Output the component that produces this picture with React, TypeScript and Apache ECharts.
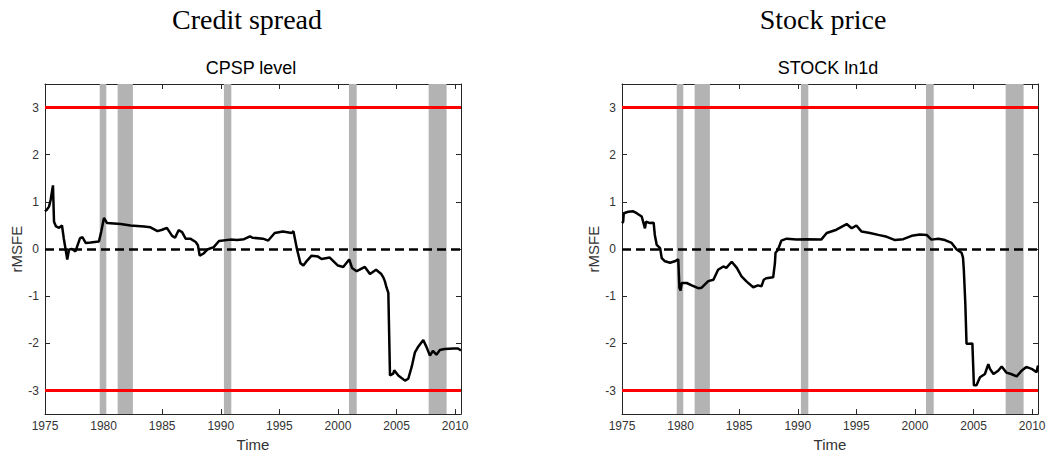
import React, { useEffect, useRef } from "react";
import * as echarts from "echarts";

// Rolling rMSFE statistic, credit spread (CPSP level)
const cpspYears = [
  1975.0, 1975.14, 1975.34, 1975.48, 1975.68, 1975.77, 1975.94, 1976.2, 1976.45, 1976.6, 1976.9,
  1977.05, 1977.3, 1977.6, 1977.99, 1978.2, 1978.47, 1978.9, 1979.6, 1979.8, 1980.03, 1980.3,
  1981.46, 1982.3, 1983.45, 1984.0, 1984.6, 1985.0, 1985.4, 1985.85, 1986.1, 1986.4, 1986.7,
  1987.0, 1987.4, 1987.86, 1988.05, 1988.2, 1988.5, 1988.85, 1989.4, 1989.85, 1990.8, 1991.4,
  1991.98, 1992.5, 1992.7, 1993.6, 1994.05, 1994.6, 1995.3, 1996.05, 1996.2, 1996.5, 1996.8,
  1997.05, 1997.35, 1997.75, 1998.3, 1998.6, 1999.3, 2000.0, 2000.45, 2000.96, 2001.2, 2001.6,
  2002.3, 2002.73, 2003.25, 2003.7, 2003.87, 2004.0, 2004.15, 2004.3, 2004.38, 2004.44, 2004.72,
  2004.8, 2005.15, 2005.72, 2006.0, 2006.29, 2006.57, 2006.85, 2007.28, 2007.56, 2007.85, 2008.1,
  2008.4, 2008.7, 2009.1, 2009.85, 2010.25, 2010.5,
];
const cpspValues = [
  0.8, 0.83, 0.9, 1.04, 1.35, 0.58, 0.48, 0.45, 0.5, 0.23, -0.22,
  -0.01, 0.0, -0.05, 0.23, 0.25, 0.13, 0.14, 0.16, 0.37, 0.66, 0.55,
  0.53, 0.5, 0.48, 0.46, 0.38, 0.41, 0.45, 0.28, 0.24, 0.4, 0.36,
  0.22, 0.22, 0.15, 0.08, -0.14, -0.1, -0.01, 0.04, 0.17, 0.2, 0.19,
  0.21, 0.27, 0.24, 0.22, 0.18, 0.34, 0.37, 0.34, 0.38, 0.0, -0.3,
  -0.35, -0.25, -0.14, -0.16, -0.21, -0.18, -0.35, -0.38, -0.22, -0.4, -0.47,
  -0.38, -0.53, -0.44, -0.53, -0.6, -0.68, -0.82, -0.93, -1.94, -2.68, -2.64,
  -2.57, -2.68, -2.79, -2.75, -2.5, -2.19, -2.07, -1.93, -2.08, -2.26, -2.16,
  -2.24, -2.14, -2.12, -2.11, -2.11, -2.15,
];

// Rolling rMSFE statistic, stock price (STOCK ln1d)
const stockYears = [
  1975.0, 1975.1, 1975.15, 1975.54, 1975.96, 1976.25, 1976.68, 1976.96, 1977.05, 1977.4, 1977.7,
  1977.8, 1977.96, 1978.25, 1978.39, 1978.67, 1979.1, 1979.5, 1979.8, 1979.9, 1980.0, 1980.1,
  1980.52, 1980.95, 1981.5, 1981.8, 1982.36, 1982.8, 1983.2, 1983.65, 1983.9, 1984.36, 1984.8,
  1985.2, 1985.64, 1986.2, 1986.6, 1986.9, 1987.1, 1987.3, 1987.9, 1988.05, 1988.1, 1988.3,
  1988.6, 1989.05, 1989.9, 1990.76, 1992.0, 1992.47, 1993.3, 1994.17, 1994.6, 1995.0, 1995.45,
  1996.16, 1996.87, 1997.6, 1998.3, 1999.0, 1999.72, 2000.43, 2001.0, 2001.4, 2002.0, 2002.56,
  2003.13, 2003.56, 2003.98, 2004.1, 2004.17, 2004.3, 2004.4, 2004.7, 2004.9, 2005.03, 2005.25,
  2005.55, 2005.97, 2006.26, 2006.4, 2006.7, 2007.1, 2007.4, 2007.8, 2008.2, 2008.68, 2009.1,
  2009.5, 2009.95, 2010.38, 2010.5,
];
const stockValues = [
  0.55, 0.58, 0.76, 0.79, 0.8, 0.76, 0.69, 0.44, 0.58, 0.55, 0.56,
  0.3, 0.09, 0.02, -0.19, -0.26, -0.29, -0.26, -0.22, -0.82, -0.88, -0.72,
  -0.72, -0.77, -0.83, -0.82, -0.68, -0.65, -0.44, -0.37, -0.4, -0.27, -0.4,
  -0.58, -0.69, -0.81, -0.77, -0.79, -0.65, -0.62, -0.6, -0.3, -0.08, -0.02,
  0.18, 0.22, 0.2, 0.21, 0.2, 0.34, 0.41, 0.53, 0.44, 0.5, 0.37,
  0.34, 0.3, 0.26, 0.19, 0.21, 0.28, 0.31, 0.3, 0.2, 0.22, 0.19,
  0.13, -0.01, -0.08, -0.18, -0.44, -1.17, -2.01, -2.01, -2.0, -2.89, -2.89,
  -2.72, -2.65, -2.44, -2.54, -2.65, -2.58, -2.49, -2.62, -2.65, -2.7, -2.58,
  -2.5, -2.54, -2.61, -2.47,
];

// Recession periods (shaded)
const recessions: [number, number][] = [
  [1979.67, 1980.23],
  [1981.2, 1982.5],
  [1990.27, 1990.9],
  [2000.94, 2001.6],
  [2007.74, 2009.27],
];

const criticalValues = [3, -3];
const xTicks = [1975, 1980, 1985, 1990, 1995, 2000, 2005, 2010];
const yTicks = [-3, -2, -1, 0, 1, 2, 3];

const panelTitles = ["Credit spread", "Stock price"];
const panelSubtitles = ["CPSP level", "STOCK ln1d"];

const X_MIN = 1975;
const X_MAX = 2010.5;
const Y_MIN = -3.5;
const Y_MAX = 3.5;

const AXIS_COLOR = "#262626";
const LABEL_FONT = "Liberation Sans, Arial, sans-serif";

function zip(xs: number[], ys: number[]) {
  return xs.map((x, i) => [x, ys[i]]);
}

export default function App() {
  const ref = useRef<HTMLDivElement>(null);

  useEffect(() => {
    if (!ref.current) return;
    const chart = echarts.init(ref.current, undefined, { renderer: "svg" });

    const panelLeft = [45, 622];
    const plotTop = 84;
    const plotW = 416;
    const plotH = 332;
    const titleCenters = [247, 823];
    const subtitleCenters = [251, 828];

    const grids = panelLeft.map((l) => ({ left: l, top: plotTop, width: plotW, height: plotH }));

    const xAxes: any[] = [];
    const yAxes: any[] = [];
    panelLeft.forEach((_, i) => {
      // bottom axis with labels
      xAxes.push({
        type: "value",
        gridIndex: i,
        min: X_MIN,
        max: X_MAX,
        position: "bottom",
        name: "Time",
        nameLocation: "middle",
        nameGap: 22,
        nameTextStyle: { fontFamily: LABEL_FONT, fontSize: 15, color: "#333" },
        axisLine: { show: true, onZero: false, lineStyle: { color: AXIS_COLOR, width: 1 } },
        axisTick: { show: true, inside: true, length: 5, customValues: xTicks, lineStyle: { color: AXIS_COLOR } },
        axisLabel: {
          show: true,
          customValues: xTicks,
          formatter: (v: number) => String(v),
          margin: 6,
          fontFamily: LABEL_FONT,
          fontSize: 12,
          color: "#333",
          showMinLabel: true,
          showMaxLabel: true,
        },
        splitLine: { show: false },
      });
      // top axis, ticks only
      xAxes.push({
        type: "value",
        gridIndex: i,
        min: X_MIN,
        max: X_MAX,
        position: "top",
        axisLine: { show: true, onZero: false, lineStyle: { color: AXIS_COLOR, width: 1 } },
        axisTick: { show: true, inside: true, length: 5, customValues: xTicks, lineStyle: { color: AXIS_COLOR } },
        axisLabel: { show: false },
        splitLine: { show: false },
      });
      // left axis with labels
      yAxes.push({
        type: "value",
        gridIndex: i,
        min: Y_MIN,
        max: Y_MAX,
        position: "left",
        name: "rMSFE",
        nameLocation: "middle",
        nameGap: 20,
        nameTextStyle: { fontFamily: LABEL_FONT, fontSize: 15, color: "#333" },
        axisLine: { show: true, onZero: false, lineStyle: { color: AXIS_COLOR, width: 1 } },
        axisTick: { show: true, inside: true, length: 5, customValues: yTicks, lineStyle: { color: AXIS_COLOR } },
        axisLabel: {
          show: true,
          customValues: yTicks,
          formatter: (v: number) => String(v),
          margin: 6,
          fontFamily: LABEL_FONT,
          fontSize: 12,
          color: "#333",
        },
        splitLine: { show: false },
      });
      // right axis, ticks only
      yAxes.push({
        type: "value",
        gridIndex: i,
        min: Y_MIN,
        max: Y_MAX,
        position: "right",
        axisLine: { show: true, onZero: false, lineStyle: { color: AXIS_COLOR, width: 1 } },
        axisTick: { show: true, inside: true, length: 5, customValues: yTicks, lineStyle: { color: AXIS_COLOR } },
        axisLabel: { show: false },
        splitLine: { show: false },
      });
    });

    const panelData = [zip(cpspYears, cpspValues), zip(stockYears, stockValues)];

    const series: any[] = panelData.map((data, i) => ({
      type: "line",
      xAxisIndex: 2 * i,
      yAxisIndex: 2 * i,
      data,
      showSymbol: false,
      symbol: "none",
      silent: true,
      z: 3,
      lineStyle: { color: "#000", width: 2.5 },
      markArea: {
        silent: true,
        z: 1,
        itemStyle: { color: "#b3b3b3", opacity: 1 },
        data: recessions.map(([a, b]) => [{ xAxis: a }, { xAxis: b }]),
      },
      markLine: {
        silent: true,
        symbol: ["none", "none"],
        label: { show: false },
        z: 4,
        data: [
          ...criticalValues.map((v) => ({
            yAxis: v,
            lineStyle: { color: "#ff0000", width: 3, type: "solid" },
          })),
          { yAxis: 0, lineStyle: { color: "#000", width: 2.5, type: [9, 5] } },
        ],
      },
    }));

    const graphic: any[] = [];
    panelTitles.forEach((t, i) => {
      graphic.push({
        type: "text",
        x: titleCenters[i],
        y: 19,
        silent: true,
        style: {
          text: t,
          fontFamily: "Liberation Serif, Times New Roman, serif",
          fontSize: 28,
          fill: "#000",
          textAlign: "center",
          textVerticalAlign: "middle",
        },
      });
      graphic.push({
        type: "text",
        x: subtitleCenters[i],
        y: 67.5,
        silent: true,
        style: {
          text: panelSubtitles[i],
          fontFamily: LABEL_FONT,
          fontSize: 18,
          fill: "#000",
          textAlign: "center",
          textVerticalAlign: "middle",
        },
      });
    });

    chart.setOption({
      animation: false,
      backgroundColor: "#ffffff",
      grid: grids,
      xAxis: xAxes,
      yAxis: yAxes,
      series,
      graphic,
    });

    return () => chart.dispose();
  }, []);

  return (
    <div
      ref={ref}
      style={{ position: "fixed", left: 0, top: 0, width: 1055, height: 457, background: "#fff" }}
    />
  );
}
